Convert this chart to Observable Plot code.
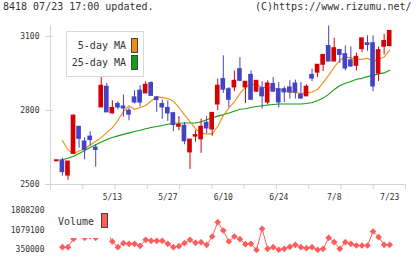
<!DOCTYPE html>
<html><head><meta charset="utf-8">
<script src="https://cdn.jsdelivr.net/npm/d3@7"></script>
<script src="https://cdn.jsdelivr.net/npm/@observablehq/plot@0.6"></script>
<style>
body{margin:0;background:#fff;}
#wrap{position:relative;width:420px;height:259px;background:#fff;font-family:"DejaVu Sans Mono",monospace;color:#333;overflow:hidden;}
#wrap svg{position:absolute;left:0;}
.hdr{position:absolute;top:1px;font-size:10px;line-height:12px;white-space:nowrap;color:#333;}
.leg{position:absolute;background:#fff;box-sizing:border-box;}
.leg .t{position:absolute;font-size:10px;line-height:12px;white-space:nowrap;color:#333;}
.leg .sw{position:absolute;box-sizing:border-box;border:1px solid #444;}
</style>
</head><body>
<div id="wrap">
  <div class="hdr" style="left:3px">8418 07/23 17:00 updated.</div>
  <div class="hdr" style="left:255px">(C)https://www.rizumu.net/</div>
  <div id="main"></div>
  <div id="vol"></div>
  <div class="leg" style="left:66px;top:31px;width:78px;height:46px;border:1px solid #d8d8d8;">
    <div class="t" style="left:0;width:59px;text-align:right;top:8px">5-day MA</div>
    <div class="sw" style="left:64px;top:6px;width:7px;height:15px;background:#f28c0f"></div>
    <div class="t" style="left:0;width:59px;text-align:right;top:25px">25-day MA</div>
    <div class="sw" style="left:64px;top:23px;width:7px;height:15px;background:#12a012"></div>
  </div>
  <div class="leg" style="left:55px;top:205px;width:55px;height:33px;">
    <div class="t" style="left:3px;top:11px">Volume</div>
    <div class="sw" style="left:46px;top:8px;width:7px;height:15px;background:#ff5c5c"></div>
  </div>
</div>
<script>
const dates = ["4/24","4/25","4/26","4/30","5/1","5/2","5/7","5/8","5/9","5/10",
  "5/13","5/14","5/15","5/16","5/17","5/20","5/21","5/22","5/23","5/24",
  "5/27","5/28","5/29","5/30","5/31","6/3","6/4","6/5","6/6","6/7",
  "6/10","6/11","6/12","6/13","6/14","6/17","6/18","6/19","6/20","6/21",
  "6/24","6/25","6/26","6/27","6/28","7/1","7/2","7/3","7/4","7/5",
  "7/8","7/9","7/10","7/11","7/12","7/16","7/17","7/18","7/19","7/22","7/23"];
const open  = [2594,2598,2536,2624,2734,2674,2694,2649,2812,2896,2788,2826,2816,2799,2853,2880,2869,2911,2853,2826,2810,2789,2734,2738,2630,2694,2683,2750,2723,2824,2927,2886,2893,2967,2893,2944,2876,2890,2832,2907,2886,2886,2893,2909,2863,2857,2944,2953,2985,3061,2998,3045,3028,3003,2981,3048,3072,3072,2949,3058,3061];
const high  = [2598,2606,2593,2781,2734,2689,2714,2661,2933,2909,2839,2835,2863,2810,2880,2900,2916,2916,2855,2842,2839,2789,2775,2751,2682,2718,2765,2775,2790,2927,3021,2893,2960,3014,2916,2960,2920,2916,2920,2933,2913,2896,2920,2923,2913,2904,2967,2985,3025,3142,3092,3045,3061,3057,3032,3092,3102,3102,3057,3108,3122];
const low   = [2594,2534,2517,2624,2647,2600,2655,2570,2812,2792,2785,2802,2772,2758,2826,2815,2869,2859,2792,2764,2756,2714,2718,2661,2561,2671,2626,2707,2695,2799,2869,2812,2876,2916,2828,2843,2873,2806,2823,2873,2810,2832,2846,2846,2846,2857,2917,2933,2957,2998,2998,2990,2960,2974,2960,3034,3040,2876,2917,3025,3057];
const close = [2598,2550,2593,2779,2685,2640,2680,2640,2900,2792,2810,2812,2808,2783,2832,2832,2904,2859,2842,2812,2788,2741,2741,2675,2682,2700,2734,2727,2790,2900,2884,2843,2920,2920,2916,2843,2920,2857,2909,2876,2832,2873,2873,2873,2848,2896,2929,2985,3025,2998,3052,3025,2970,2978,3017,3092,3065,2897,3044,3081,3122];
const ma5  = [null,2678,2640,2624,2636,2645,2660,2674,2690,2710,2730,2760,2795,2819,2804,2812,2820,2838,2855,2852,2848,2838,2812,2782,2755,2725,2708,2705,2705,2735,2779,2810,2835,2868,2895,2905,2905,2893,2893,2890,2886,2882,2874,2873,2868,2870,2875,2885,2913,2942,2976,3003,3017,3013,3007,3007,3011,2998,3007,3016,3044];
const ma25 = [null,2600,2606,2614,2626,2638,2650,2661,2672,2682,2690,2697,2703,2709,2715,2720,2726,2731,2735,2739,2744,2748,2748,2749,2749,2749,2754,2762,2770,2777,2783,2790,2797,2805,2807,2812,2816,2819,2822,2824,2826,2826,2826,2826,2826,2828,2832,2839,2850,2865,2885,2900,2910,2917,2926,2930,2937,2942,2948,2952,2963];
const volume = [null,436000,436000,750000,900000,787000,850000,787000,1808200,1000000,649000,436000,586000,561000,561000,487000,712000,674000,674000,674000,561000,436000,474000,586000,712000,599000,624000,524000,836000,1371000,1060000,649000,836000,735000,549000,561000,330000,1124000,376000,436000,340000,376000,449000,524000,436000,399000,436000,340000,376000,787000,624000,376000,624000,561000,500000,500000,500000,1023000,810000,524000,524000];
const priceTicks = [2500, 2800, 3100];
const volumeTicks = [350000, 1079100, 1808200];
const labelIdx = [10, 20, 30, 40, 50, 60];

const RED = "#d50000", BLUE = "#4343c3", ORANGE = "#f28c0f", GREEN = "#12a012", VOLC = "#ff5c5c", AXC = "#d4d4d4";
const xDom = [-1.15, 62.85];
const yDom = [2500, 3144];
const gridTicks = d3.range(12).map(k => xDom[0] + k * (xDom[1] - xDom[0]) / 11);

const rows = dates.map((d, i) => ({i, date: d, open: open[i], high: high[i], low: low[i], close: close[i],
  ma5: ma5[i], ma25: ma25[i], vol: volume[i]}));
const col = d => d.close >= d.open ? RED : BLUE;

const font = {fontFamily: "'DejaVu Sans Mono', monospace", fontSize: "8px", color: "#333", background: "transparent", overflow: "visible"};

const main = Plot.plot({
  width: 420, height: 205,
  marginLeft: 50, marginRight: 15, marginTop: 25, marginBottom: 21,
  style: font,
  x: {domain: xDom},
  y: {domain: yDom},
  marks: [
    Plot.ruleY([yDom[0]], {stroke: AXC}),
    Plot.ruleX([xDom[0]], {stroke: AXC, insetBottom: -6}),
    Plot.axisX({ticks: gridTicks, tickFormat: () => "", tickSize: 5, stroke: AXC, label: null}),
    Plot.axisX({ticks: labelIdx, tickFormat: d => dates[d], tickSize: 0, tickPadding: 10, label: null, fill: "#333"}),
    Plot.ruleY(priceTicks, {x1: xDom[0], x2: xDom[0], insetLeft: -5, insetRight: -3, stroke: AXC}),
    Plot.axisY({ticks: priceTicks, tickSize: 0, tickPadding: 11, tickFormat: d3.format("d"), label: null, fill: "#333"}),
    Plot.line(rows, {x: "i", y: "ma25", stroke: GREEN, strokeWidth: 1.1}),
    Plot.line(rows, {x: "i", y: "ma5", stroke: ORANGE, strokeWidth: 1.1}),
    Plot.ruleX(rows, {x: "i", y1: "low", y2: "high", stroke: col, strokeWidth: 1}),
    Plot.rect(rows, {x1: d => d.i - 0.42, x2: d => d.i + 0.42, y1: "open", y2: "close", fill: col, insetTop: -0.5, insetBottom: -0.5})
  ]
});
main.style.top = "0px";
document.getElementById("main").appendChild(main);

const vol = Plot.plot({
  width: 420, height: 59,
  marginLeft: 50, marginRight: 15, marginTop: 10, marginBottom: 10,
  style: font,
  x: {domain: xDom, axis: null},
  y: {domain: [volumeTicks[0], volumeTicks[2]]},
  marks: [
    Plot.axisY({ticks: volumeTicks, tickSize: 0, tickPadding: 6, tickFormat: d3.format("d"), label: null, fill: "#333"}),
    Plot.line(rows, {x: "i", y: "vol", stroke: VOLC, strokeWidth: 1}),
    Plot.dot(rows.filter(d => d.vol != null), {x: "i", y: "vol", symbol: "diamond2", r: 3, fill: VOLC, stroke: "none"})
  ]
});
vol.style.top = "200px";
document.getElementById("vol").appendChild(vol);
</script>
</body></html>
